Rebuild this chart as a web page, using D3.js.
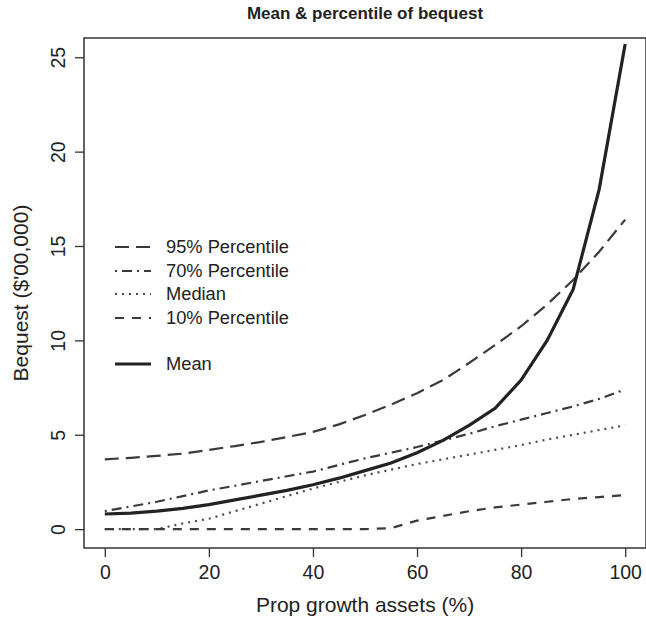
<!DOCTYPE html>
<html>
<head>
<meta charset="utf-8">
<script src="https://cdn.jsdelivr.net/npm/d3@7"></script>
<style>
  body { margin: 0; background: #fff; }
  text { font-family: "Liberation Sans", Arial, sans-serif; fill: #222; }
</style>
</head>
<body>
<div id="chart"></div>
<script>
// data, x in steps of 5
var growth = [0, 5, 10, 15, 20, 25, 30, 35, 40, 45, 50, 55, 60, 65, 70, 75, 80, 85, 90, 95, 100];
var p95    = [3.70, 3.78, 3.88, 4.00, 4.20, 4.40, 4.62, 4.88, 5.15, 5.55, 6.05, 6.60, 7.20, 7.90, 8.80, 9.75, 10.75, 11.90, 13.20, 14.70, 16.40];
var p70    = [0.95, 1.20, 1.45, 1.75, 2.05, 2.30, 2.55, 2.80, 3.05, 3.40, 3.75, 4.05, 4.35, 4.70, 5.05, 5.45, 5.80, 6.15, 6.50, 6.90, 7.40];
var median = [0.00, 0.00, 0.00, 0.30, 0.55, 0.95, 1.35, 1.75, 2.15, 2.50, 2.85, 3.15, 3.45, 3.70, 3.95, 4.20, 4.45, 4.75, 5.00, 5.25, 5.50];
var p10    = [0, 0, 0, 0, 0, 0, 0, 0, 0, 0, 0, 0.05, 0.45, 0.70, 0.95, 1.15, 1.30, 1.45, 1.60, 1.70, 1.80];
var mean   = [0.80, 0.85, 0.95, 1.10, 1.30, 1.55, 1.80, 2.05, 2.35, 2.70, 3.10, 3.50, 4.05, 4.70, 5.50, 6.40, 7.90, 10.00, 12.70, 18.00, 25.70];

var xTicks = [0, 20, 40, 60, 80, 100];
var yTicks = [0, 5, 10, 15, 20, 25];

var legendNames = ['95% Percentile', '70% Percentile', 'Median', '10% Percentile', 'Mean'];

var W = 646, H = 617;
var plotL = 84, plotR = 646, plotT = 38, plotB = 548;

var svg = d3.select('#chart').append('svg')
  .attr('width', W)
  .attr('height', H);

var x = d3.scaleLinear().domain([-4, 104]).range([plotL, plotR]);
var y = d3.scaleLinear().domain([-1.0, 26.02]).range([plotB, plotT]);

// series with their line styles
var series = [
  { name: legendNames[0], values: p95,    dash: '14,7',     width: 2.2, color: '#3a3a3a' },
  { name: legendNames[1], values: p70,    dash: '2,5,10,5', width: 2.2, color: '#3a3a3a' },
  { name: legendNames[2], values: median, dash: '2,5',      width: 2.2, color: '#4a4a4a' },
  { name: legendNames[3], values: p10,    dash: '9,8',      width: 2.2, color: '#3a3a3a' },
  { name: legendNames[4], values: mean,   dash: null,       width: 3.2, color: '#222' }
];

var line = d3.line()
  .x(function(d, i) { return x(growth[i]); })
  .y(function(d) { return y(d); });

svg.append('g').selectAll('path')
  .data(series)
  .enter().append('path')
  .attr('d', function(s) { return line(s.values); })
  .attr('fill', 'none')
  .attr('stroke', function(s) { return s.color; })
  .attr('stroke-width', function(s) { return s.width; })
  .attr('stroke-dasharray', function(s) { return s.dash; });

// box
svg.append('rect')
  .attr('x', plotL).attr('y', plotT)
  .attr('width', plotR - plotL).attr('height', plotB - plotT)
  .attr('fill', 'none')
  .attr('stroke', '#333')
  .attr('stroke-width', 1.5);

// x axis
var xAxis = svg.append('g')
  .attr('transform', 'translate(0,' + plotB + ')')
  .call(d3.axisBottom(x).tickValues(xTicks).tickSize(9).tickPadding(8));
xAxis.select('.domain').remove();
xAxis.selectAll('line').attr('stroke', '#333').attr('stroke-width', 1.3);
xAxis.selectAll('text').attr('font-size', 19.5).attr('fill', '#222')
  .style('font-family', '"Liberation Sans", Arial, sans-serif');

// y axis, labels rotated like R
var yAxis = svg.append('g')
  .attr('transform', 'translate(' + plotL + ',0)')
  .call(d3.axisLeft(y).tickValues(yTicks).tickSize(9));
yAxis.select('.domain').remove();
yAxis.selectAll('line').attr('stroke', '#333').attr('stroke-width', 1.3);
yAxis.selectAll('text')
  .attr('font-size', 19.5)
  .attr('fill', '#222')
  .style('font-family', '"Liberation Sans", Arial, sans-serif')
  .attr('x', null).attr('dy', null)
  .attr('text-anchor', 'middle')
  .attr('transform', 'translate(-19,0) rotate(-90)');

// titles
svg.append('text')
  .attr('x', (plotL + plotR) / 2).attr('y', 19)
  .attr('text-anchor', 'middle')
  .attr('font-size', 17).attr('font-weight', 'bold')
  .text('Mean & percentile of bequest');

svg.append('text')
  .attr('x', (plotL + plotR) / 2).attr('y', 612)
  .attr('text-anchor', 'middle')
  .attr('font-size', 21)
  .text('Prop growth assets (%)');

svg.append('text')
  .attr('transform', 'translate(28,' + ((plotT + plotB) / 2) + ') rotate(-90)')
  .attr('text-anchor', 'middle')
  .attr('font-size', 21)
  .text("Bequest ($'00,000)");

// legend
var legendY = [247, 271, 294, 318, 364];
var legend = svg.append('g').selectAll('g')
  .data(series)
  .enter().append('g')
  .attr('transform', function(s, i) { return 'translate(115,' + legendY[i] + ')'; });

legend.append('line')
  .attr('x1', 0).attr('x2', 36)
  .attr('stroke', function(s) { return s.color; })
  .attr('stroke-width', function(s) { return s.width; })
  .attr('stroke-dasharray', function(s) { return s.dash; });

legend.append('text')
  .attr('x', 51).attr('dy', '0.35em')
  .attr('font-size', 18.3)
  .text(function(s) { return s.name; });
</script>
</body>
</html>
